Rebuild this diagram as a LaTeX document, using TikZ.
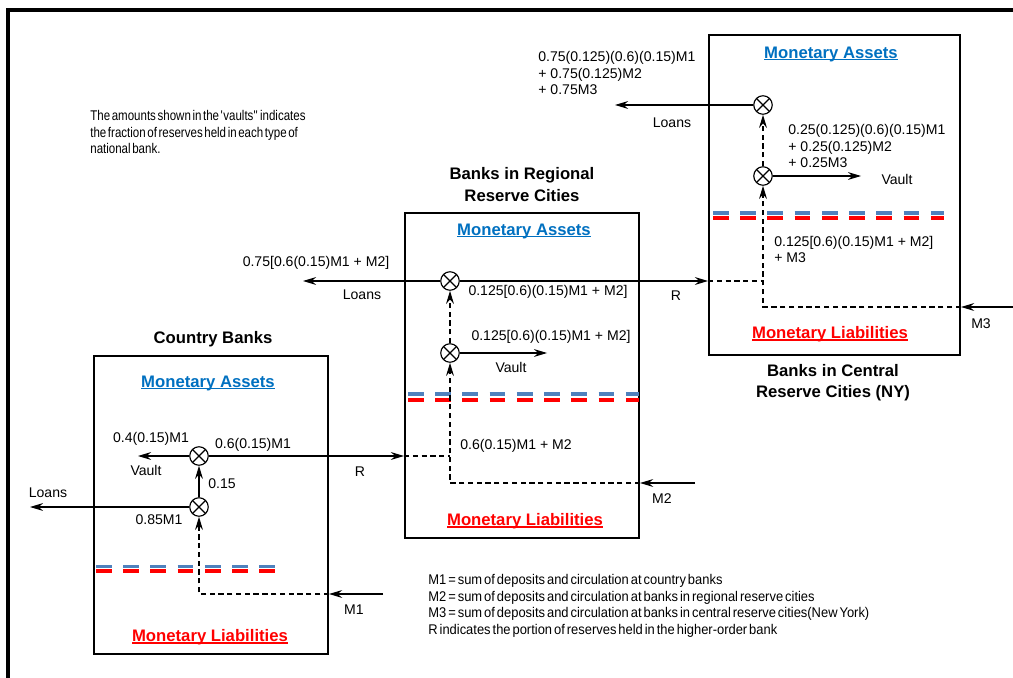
\documentclass[tikz,border=0pt]{standalone}
\usepackage{fontspec}
\setmainfont{Liberation Sans}
\newfontfamily\narrowfont[FakeStretch=0.92,WordSpace=0.55]{Liberation Sans}
\newfontfamily\notefont[FakeStretch=0.82,WordSpace=0.5]{Liberation Sans}
\usepackage{tikz}
\usetikzlibrary{positioning}
\usetikzlibrary{arrows.meta}
\usetikzlibrary{calc}
\definecolor{assetblue}{HTML}{0070C0}
\definecolor{dashblue}{HTML}{4F81BD}
\definecolor{liabred}{HTML}{FF0000}
\newcommand\ulin[1]{\setbox0\hbox{#1}\rlap{\rule[-1.4pt]{\wd0}{0.75pt}}\box0}
\tikzset{
	bankbox/.style = {draw, line width=1.2pt, rectangle, inner sep=0pt},
	mult/.style = {draw, circle, line width=0.65pt, minimum size=0.37cm, inner sep=0pt, fill=white,
		path picture={\draw[line width=0.65pt] (path picture bounding box.south west) -- (path picture bounding box.north east)
			(path picture bounding box.north west) -- (path picture bounding box.south east);}},
	flow/.style = {line width=0.6pt, -{Stealth[length=7.5pt,width=4.5pt,inset=2.6pt]}},
	feed/.style = {line width=0.6pt, dash pattern=on 3pt off 2pt},
	feedflow/.style = {feed, -{Stealth[length=7.5pt,width=4.5pt,inset=2.6pt]}},
	lbl/.style = {font=\fontsize{8}{9.6}\selectfont, inner sep=0pt},
	ttl/.style = {font=\fontsize{9.5}{12}\selectfont\bfseries, align=center, inner sep=0pt},
	assets/.style = {font=\fontsize{9.5}{11}\selectfont\bfseries, text=assetblue, inner sep=0pt},
	liab/.style = {font=\fontsize{9.5}{11}\selectfont\bfseries, text=liabred, inner sep=0pt},
	blueline/.style = {dashblue, line width=2pt, dash pattern=on 8.9pt off 6.6pt},
	redline/.style = {liabred, line width=2.3pt, dash pattern=on 8.9pt off 6.6pt},
	note/.style = {font=\notefont\fontsize{8}{9.6}\selectfont, align=left, inner sep=0pt},
	legendtxt/.style = {font=\narrowfont\fontsize{8}{9.5}\selectfont, align=left, inner sep=0pt}
}
\begin{document}
\begin{tikzpicture}[x=0.02cm, y=-0.02cm]
	\useasboundingbox (0,0) rectangle (1013,678);
	\draw[line width=1.8pt, line join=miter] (8,678) -- (8,10) -- (1013,10);

	% country banks
	\node[bankbox, minimum width=4.68cm, minimum height=5.96cm] at (211,505) (cb) {};
	\node[ttl] at (213,339) (cbtitle) {Country Banks};
	\node[assets] at (208,383) (cbassets) {\ulin{Monetary Assets}};
	\node[liab] at (210,637) (cbliab) {\ulin{Monetary Liabilities}};
	\node[mult] at (199,456) (c1) {};
	\node[mult] at (199,507) (c2) {};
	\coordinate (c1vault) at (138,456);
	\coordinate (c2loan) at (30,507);
	\coordinate (m1in) at (383,594);
	\draw[blueline] (96,566.5) -- (278,566.5);
	\draw[redline] (96,571.3) -- (278,571.3);
	\node[lbl] at (151,439) (c1vaultlbl) {0.4(0.15)M1};
	\node[lbl] at (146,470) (c1vaulttxt) {Vault};
	\node[lbl] at (253,445) (c1rlbl) {0.6(0.15)M1};
	\node[lbl] at (360,472) (c1rtxt) {R};
	\node[lbl] at (222,484) (c2frac) {0.15};
	\node[lbl] at (48,493) (c2loantxt) {Loans};
	\node[lbl] at (159,520) (c2loanlbl) {0.85M1};
	\node[lbl] at (354,610) (m1txt) {M1};

	% regional reserve cities
	\node[bankbox, minimum width=4.68cm, minimum height=6.5cm] at (522,375.5) (rg) {};
	\node[ttl] at (522,184.5) (rgtitle) {Banks in Regional\\Reserve Cities};
	\node[assets] at (524,231) (rgassets) {\ulin{Monetary Assets}};
	\node[liab] at (525,521) (rgliab) {\ulin{Monetary Liabilities}};
	\node[mult] at (450,281) (r1) {};
	\node[mult] at (450,353) (r2) {};
	\coordinate (r1loan) at (303,281);
	\coordinate (r2vault) at (547,353);
	\coordinate (m2in) at (695,483);
	\draw[blueline] (408,394) -- (639,394);
	\draw[redline] (408,400) -- (639,400);
	\node[lbl] at (316,263) (r1loanlbl) {0.75[0.6(0.15)M1 + M2]};
	\node[lbl] at (362,295) (r1loantxt) {Loans};
	\node[lbl] at (548,292) (r1rlbl) {0.125[0.6)(0.15)M1 + M2]};
	\node[lbl] at (676,296) (r1rtxt) {R};
	\node[lbl] at (551,337) (r2vaultlbl) {0.125[0.6)(0.15)M1 + M2]};
	\node[lbl] at (511,367) (r2vaulttxt) {Vault};
	\node[lbl] at (516,446) (rginlbl) {0.6(0.15)M1 + M2};
	\node[lbl] at (662,499) (m2txt) {M2};

	% central reserve cities
	\node[bankbox, minimum width=5.02cm, minimum height=6.4cm] at (834.5,195) (nb) {};
	\node[ttl] at (833,383) (nbtitle) {Banks in Central\\Reserve Cities (NY)};
	\node[assets] at (831,54) (nbassets) {\ulin{Monetary Assets}};
	\node[liab] at (830,334) (nbliab) {\ulin{Monetary Liabilities}};
	\node[mult] at (763,105) (n1) {};
	\node[mult] at (763,176) (n2) {};
	\coordinate (n1loan) at (615,105);
	\coordinate (n2vault) at (861,176);
	\coordinate (m3in) at (1013,307);
	\draw[blueline] (713,213) -- (944,213);
	\draw[redline] (713,218) -- (944,218);
	\node[lbl, align=left, anchor=west] at (538,73) (n1loanlbl) {0.75(0.125)(0.6)(0.15)M1\\+ 0.75(0.125)M2\\+ 0.75M3};
	\node[lbl] at (672,123) (n1loantxt) {Loans};
	\node[lbl, align=left, anchor=west] at (788,146) (n2vaultlbl) {0.25(0.125)(0.6)(0.15)M1\\+ 0.25(0.125)M2\\+ 0.25M3};
	\node[lbl] at (897,179) (n2vaulttxt) {Vault};
	\node[lbl, align=left, anchor=west] at (774,249.5) (nbinlbl) {0.125[0.6)(0.15)M1 + M2]\\+ M3};
	\node[lbl] at (981,324) (m3txt) {M3};

	% flows
	\draw[flow] (c1) to (c1vault);
	\draw[flow] (c1) to (c1 -| rg.west);
	\draw[flow] (c2) to (c1);
	\draw[flow] (c2) to (c2loan);
	\draw[flow] (m1in) to (m1in -| cb.east);
	\draw[feedflow] (m1in -| cb.east) -| (c2);

	\draw[feed] (rg.west |- c1) to (r2 |- c1);
	\draw[flow] (m2in) to (m2in -| rg.east);
	\draw[feedflow] (m2in -| rg.east) -| (r2);
	\draw[feedflow] (r2) to (r1);
	\draw[flow] (r1) to (r1loan);
	\draw[flow] (r2) to (r2vault);
	\draw[flow] (r1) to (r1 -| nb.west);

	\draw[feed] (nb.west |- r1) to (n2 |- r1);
	\draw[flow] (m3in) to (m3in -| nb.east);
	\draw[feedflow] (m3in -| nb.east) -| (n2);
	\draw[feedflow] (n2) to (n1);
	\draw[flow] (n1) to (n1loan);
	\draw[flow] (n2) to (n2vault);

	% notes
	\node[note, anchor=west] at (90,132) (vaultnote) {The amounts shown in the \textquotesingle vaults\textquotedbl{} indicates\\the fraction of reserves held in each type of\\national bank.};
	\node[legendtxt, anchor=west] at (428,606) (legend) {M1 = sum of deposits and circulation at country banks\\M2 = sum of deposits and circulation at banks in regional reserve cities\\M3 = sum of deposits and circulation at banks in central reserve cities(New York)\\R indicates the portion of reserves held in the higher-order bank};
\end{tikzpicture}
\end{document}
